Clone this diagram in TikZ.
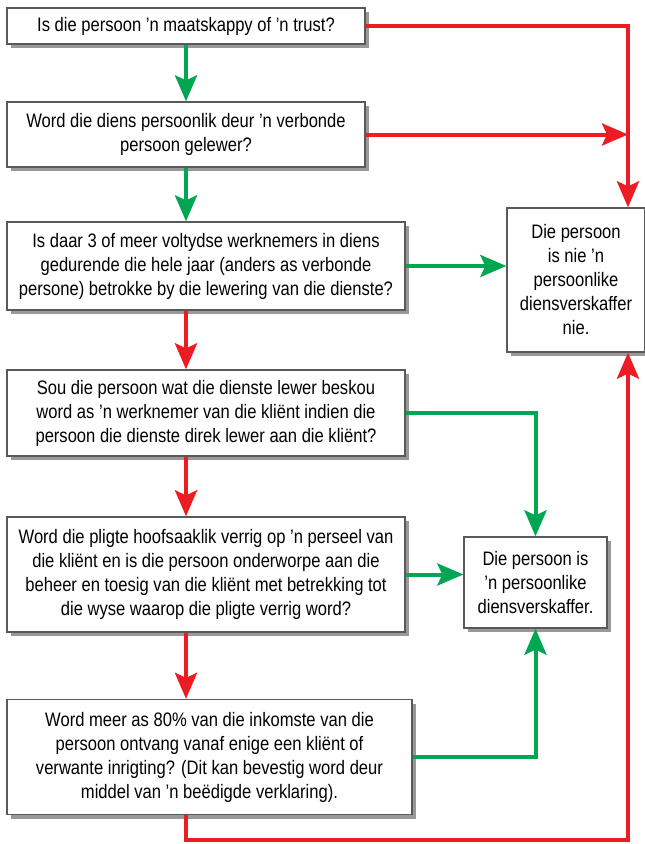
\documentclass[tikz,border=0pt]{standalone}
\usepackage{fontspec}
\setmainfont{Liberation Sans}[FakeStretch=0.85]
\usepackage{tikz}
\usetikzlibrary{arrows.meta,shadows}
\definecolor{yesgreen}{RGB}{0,166,81}
\definecolor{nored}{RGB}{237,28,36}

\begin{document}
\begin{tikzpicture}[x=1pt,y=-1pt,line width=4pt,
    >={Stealth[length=26pt,width=22pt,inset=5pt]}]
  \tikzstyle{box}=[draw=black!65,line width=1.3pt,fill=white,align=center,
    font=\fontsize{19.5}{24}\selectfont,
    drop shadow={shadow xshift=4pt,shadow yshift=-4pt,opacity=0.4,fill=black}]
  \tikzstyle{yes}=[->,draw=yesgreen]
  \tikzstyle{no}=[->,draw=nored]

  \useasboundingbox (0,0) rectangle (645,844);

  \node[box,minimum width=358pt,minimum height=36pt] (q1) at (186,26)
    {Is die persoon ’n maatskappy of ’n trust?};
  \node[box,minimum width=358pt,minimum height=65pt] (q2) at (186,134.5)
    {Word die diens persoonlik deur ’n verbonde\\ persoon gelewer?};
  \node[box,minimum width=398pt,minimum height=88pt] (q3) at (206,266)
    {Is daar 3 of meer voltydse werknemers in diens\\ gedurende die hele jaar (anders as verbonde\\ persone) betrokke by die lewering van die dienste?};
  \node[box,minimum width=398pt,minimum height=86pt] (q4) at (206,413)
    {Sou die persoon wat die dienste lewer beskou\\ word as ’n werknemer van die kliënt indien die\\ persoon die dienste direk lewer aan die kliënt?};
  \node[box,minimum width=398pt,minimum height=115pt] (q5) at (206,574.5)
    {Word die pligte hoofsaaklik verrig op ’n perseel van\\ die kliënt en is die persoon onderworpe aan die\\ beheer en toesig van die kliënt met betrekking tot\\ die wyse waarop die pligte verrig word?};
  \node[box,minimum width=405pt,minimum height=115pt] (q6) at (209.5,757)
    {Word meer as 80\% van die inkomste van die\\ persoon ontvang vanaf enige een kliënt of\\ verwante inrigting? (Dit kan bevestig word deur\\ middel van ’n beëdigde verklaring).};
  \node[box,minimum width=138pt,minimum height=144pt] (N) at (576,280)
    {Die persoon\\ is nie ’n\\ persoonlike\\ diensverskaffer\\ nie.};
  \node[box,minimum width=143pt,minimum height=91pt] (Y) at (535.5,582.5)
    {Die persoon is\\ ’n persoonlike\\ diensverskaffer.};
  \coordinate (rail) at (628,840);

  \draw[yes] (q1) -- (q2);
  \draw[yes] (q2.south -| q1) -- (q3.north -| q1);
  \draw[yes] (q3.east) -- (q3.east -| N.west);
  \draw[yes] (q4.east) -| (Y.north);
  \draw[yes] (q5.east) -- (q5.east -| Y.west);
  \draw[yes] (q6.east) -| (Y.south);

  \draw[no] (q1.east) -| (N.north -| rail);
  \draw[no] (q2.east) -- (q2.east -| rail);
  \draw[no] (q3.south -| q1) -- (q4.north -| q1);
  \draw[no] (q4.south -| q1) -- (q5.north -| q1);
  \draw[no] (q5.south -| q1) -- (q6.north -| q1);
  \draw[no] (q6.south -| q1) |- (rail) -- (rail |- N.south);
\end{tikzpicture}
\end{document}
